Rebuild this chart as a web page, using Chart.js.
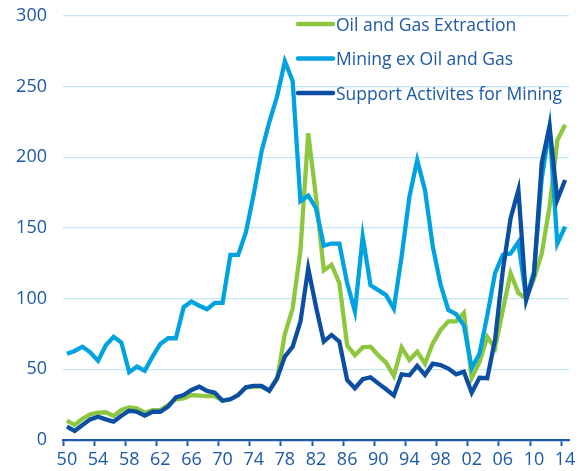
<!DOCTYPE html>
<html>
<head>
<meta charset="utf-8">
<script src="https://cdn.jsdelivr.net/npm/chart.js@4.4.0/dist/chart.umd.min.js"></script>
<style>
  html, body { margin: 0; padding: 0; background: #ffffff; }
  #wrap { width: 587px; height: 471px; position: relative; }
</style>
</head>
<body>
<div id="wrap"><canvas id="c"></canvas></div>
<script>
// ---- Data (index) ----
const years = [];
for (let y = 1950; y <= 2014; y++) years.push(y);

const tickLabels = ['50','54','58','62','66','70','74','78','82','86','90','94','98','02','06','10','14'];
const yTicks = [0, 50, 100, 150, 200, 250, 300];

const seriesNames = ['Oil and Gas Extraction', 'Mining ex Oil and Gas', 'Support Activites for Mining'];

const oilGas = [
  13.7, 10.6, 15, 18.2, 19.3, 19.6, 17, 21.2, 23, 22.4,
  19.3, 21.2, 21.2, 24.8, 28.8, 29.5, 31.8, 31.4, 31, 31,
  27.8, 28.8, 31.8, 37.3, 37.7, 37.7, 35, 43, 75, 93,
  134, 217, 172, 120, 124, 111, 67, 60, 65.5, 66,
  60, 54.7, 45.3, 65.6, 56.6, 62.5, 54, 68.4, 77.8, 84,
  84, 90, 44, 55, 73, 65, 92, 118, 104, 100,
  114, 132, 165, 212, 223
];

const miningEx = [
  61, 63, 66, 62, 56, 67, 73, 69, 48, 52,
  49, 59, 68, 72, 72, 94, 98, 95, 92.5, 97,
  97, 131, 131, 147, 174, 204, 225, 243, 268, 254,
  169, 173, 164, 137.5, 139, 139, 111, 91, 144, 109.5,
  106, 102.5, 93, 130, 172, 198, 177, 137, 110, 92,
  89, 81, 51, 61, 88, 118, 131, 132, 140, 100,
  119, 185, 221, 139, 151
];

const support = [
  9.4, 6.4, 10.6, 14.6, 16.5, 14.6, 13, 17.2, 20.7, 20,
  17.2, 20, 20, 23.6, 30.2, 31.8, 35.4, 37.7, 34.7, 33.5,
  27.8, 28.8, 31.8, 37.3, 38.3, 38.3, 34.9, 43.7, 59, 66,
  83.7, 121.5, 94.3, 69.6, 74.3, 69.6, 42.5, 36.6, 43, 44.4,
  40.1, 35.9, 31.5, 46.5, 45.8, 52.4, 46, 54, 53, 50.5,
  46.5, 48.3, 33.5, 44, 43.7, 70.8, 120, 157, 177, 99,
  117, 196, 222, 170, 184
];

// ---- Styles ----
const GREEN = '#8DC63F';
const LIGHT = '#00A3E0';
const NAVY  = '#0B4EA2';
const TEXT  = '#1C59A6';
const GRID  = '#C3E5F6';
const AXIS  = '#1E5BAA';
const FONT  = "'Open Sans', 'DejaVu Sans', sans-serif";

const legendPlugin = {
  id: 'customLegend',
  afterDraw(chart) {
    const ctx = chart.ctx;
    const items = chart.data.datasets;
    const x0 = 298, x1 = 333, tx = 336;
    const ys = [24, 58.5, 93];
    ctx.save();
    items.forEach((ds, i) => {
      const y = ys[i];
      ctx.strokeStyle = ds.borderColor;
      ctx.lineWidth = 4.5;
      ctx.lineCap = 'round';
      ctx.beginPath();
      ctx.moveTo(x0, y);
      ctx.lineTo(x1, y);
      ctx.stroke();
      ctx.fillStyle = TEXT;
      ctx.font = "17.5px " + FONT;
      ctx.textBaseline = 'alphabetic';
      ctx.textAlign = 'left';
      ctx.fillText(ds.label, tx, y + 6.6);
    });
    ctx.restore();
  }
};

const common = {
  borderWidth: 4.3,
  pointRadius: 0,
  pointHoverRadius: 0,
  tension: 0,
  borderJoinStyle: 'miter',
  borderCapStyle: 'butt',
  fill: false
};

new Chart(document.getElementById('c'), {
  type: 'line',
  data: {
    labels: years,
    datasets: [
      Object.assign({ label: seriesNames[0], data: oilGas, borderColor: GREEN, order: 3 }, common),
      Object.assign({ label: seriesNames[1], data: miningEx, borderColor: LIGHT, order: 2 }, common),
      Object.assign({ label: seriesNames[2], data: support, borderColor: NAVY, order: 1 }, common)
    ]
  },
  options: {
    responsive: true,
    maintainAspectRatio: false,
    animation: false,
    devicePixelRatio: 1,
    layout: { padding: { top: 0, right: 18, left: 0, bottom: 0 } },
    plugins: { legend: { display: false }, tooltip: { enabled: false } },
    scales: {
      x: {
        type: 'category',
        offset: true,
        grid: {
          offset: true,
          drawOnChartArea: false,
          drawTicks: true,
          tickLength: 6,
          tickWidth: 2,
          tickColor: (c) => (c.index % 4 === 0 && c.index < years.length) ? AXIS : 'rgba(0,0,0,0)'
        },
        border: { display: true, color: AXIS, width: 2.3 },
        ticks: {
          autoSkip: false,
          maxRotation: 0,
          minRotation: 0,
          padding: 3,
          color: TEXT,
          font: { family: FONT, size: 18 },
          callback: (val, idx) => (idx % 4 === 0) ? tickLabels[idx / 4] : ''
        },
        afterFit: (s) => { s.height = 31; }
      },
      y: {
        min: 0,
        max: 300,
        afterBuildTicks: (s) => { s.ticks = yTicks.map(v => ({ value: v })); },
        grid: { color: GRID, lineWidth: 1.3, drawTicks: false },
        border: { display: false },
        ticks: {
          padding: 16,
          color: TEXT,
          font: { family: FONT, size: 18, lineHeight: 0 }
        },
        afterFit: (s) => { s.width = 63; }
      }
    }
  },
  plugins: [legendPlugin]
});
</script>
</body>
</html>
